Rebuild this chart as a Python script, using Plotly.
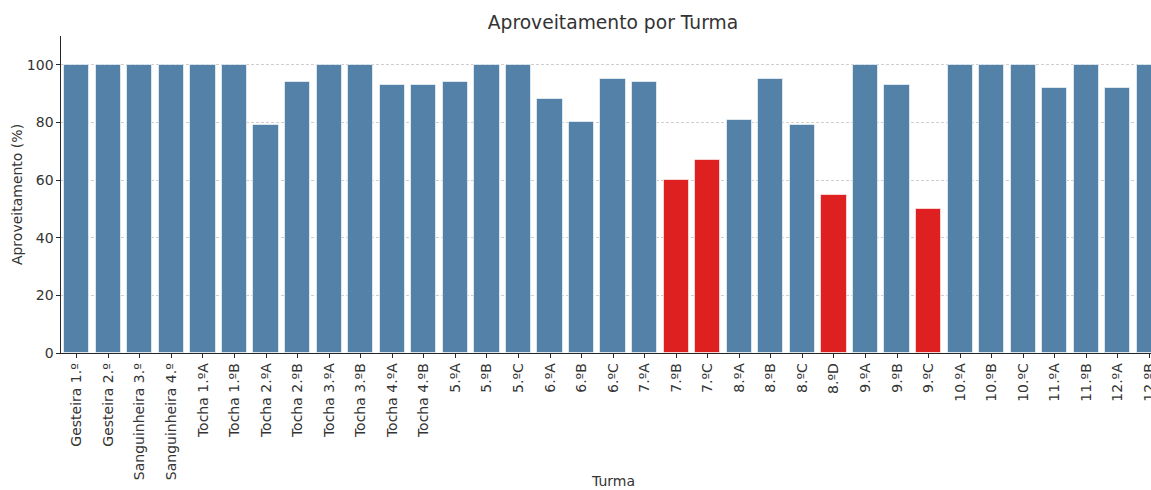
import plotly.graph_objects as go

turmas = [
    "Gesteira 1.º", "Gesteira 2.º", "Sanguinheira 3.º", "Sanguinheira 4.º",
    "Tocha 1.ºA", "Tocha 1.ºB", "Tocha 2.ºA", "Tocha 2.ºB", "Tocha 3.ºA",
    "Tocha 3.ºB", "Tocha 4.ºA", "Tocha 4.ºB", "5.ºA", "5.ºB", "5.ºC",
    "6.ºA", "6.ºB", "6.ºC", "7.ºA", "7.ºB", "7.ºC", "8.ºA", "8.ºB", "8.ºC",
    "8.ºD", "9.ºA", "9.ºB", "9.ºC", "10.ºA", "10.ºB", "10.ºC", "11.ºA",
    "11.ºB", "12.ºA", "12.ºB",
]
aproveitamento = [
    100, 100, 100, 100, 100, 100, 79, 94, 100, 100, 93, 93, 94, 100, 100,
    88, 80, 95, 94, 60, 67, 81, 95, 79, 55, 100, 93, 50, 100, 100, 100,
    92, 100, 92, 100,
]
limite = 70

COR_OK = "#5381a7"
COR_BAIXO = "#df2020"
cores = [COR_BAIXO if v < limite else COR_OK for v in aproveitamento]

FONT = "DejaVu Sans"
TXT = "#333333"

W, H = 1151, 490
M_L, M_R, M_T, M_B = 61, 0, 36, 137
plot_w = W - M_L - M_R
plot_h = H - M_T - M_B

fig = go.Figure(
    go.Bar(
        x=list(range(len(turmas))),
        y=aproveitamento,
        width=0.8,
        marker=dict(color=cores, line=dict(color="rgba(255,255,255,0.6)", width=1)),
        hoverinfo="skip",
    )
)

fig.update_layout(
    width=W,
    height=H,
    margin=dict(l=M_L, r=M_R, t=M_T, b=M_B, autoexpand=False),
    paper_bgcolor="white",
    plot_bgcolor="white",
    showlegend=False,
    bargap=0,
    font=dict(family=FONT, color=TXT, size=14),
    title=dict(
        text="Aproveitamento por Turma",
        x=613 / W,
        xanchor="center",
        y=1 - 22 / H,
        yanchor="middle",
        font=dict(family=FONT, size=18.7, color=TXT),
    ),
)

# x-axis title placed as a paper annotation below the rotated labels
fig.add_annotation(
    text="Turma",
    xref="paper", yref="paper",
    x=(613 - M_L) / plot_w,
    y=-(481 - (H - M_B)) / plot_h,
    xanchor="center", yanchor="middle",
    showarrow=False,
    font=dict(family=FONT, size=14, color=TXT),
)

fig.update_xaxes(
    range=[-0.5, 34.05],
    tickmode="array",
    tickvals=list(range(len(turmas))),
    ticktext=turmas,
    tickangle=-90,
    tickfont=dict(family=FONT, size=14, color=TXT),
    ticklabeloverflow="allow",
    ticks="outside",
    ticklen=3.5,
    tickcolor="#262626",
    showline=True,
    linecolor="#262626",
    linewidth=1.2,
    showgrid=False,
    zeroline=False,
    automargin=False,
)

fig.update_yaxes(
    range=[0, 110],
    tickvals=[0, 20, 40, 60, 80, 100],
    tickfont=dict(family=FONT, size=14, color=TXT),
    ticks="outside",
    ticklen=3.5,
    tickcolor="#262626",
    showline=True,
    linecolor="#262626",
    linewidth=1.2,
    showgrid=True,
    gridcolor="#cfcfcf",
    gridwidth=0.8,
    griddash="3px,2px",
    zeroline=False,
    automargin=False,
    title=dict(text="Aproveitamento (%)", font=dict(family=FONT, size=14, color=TXT), standoff=0),
)

fig.write_html("out.html")
